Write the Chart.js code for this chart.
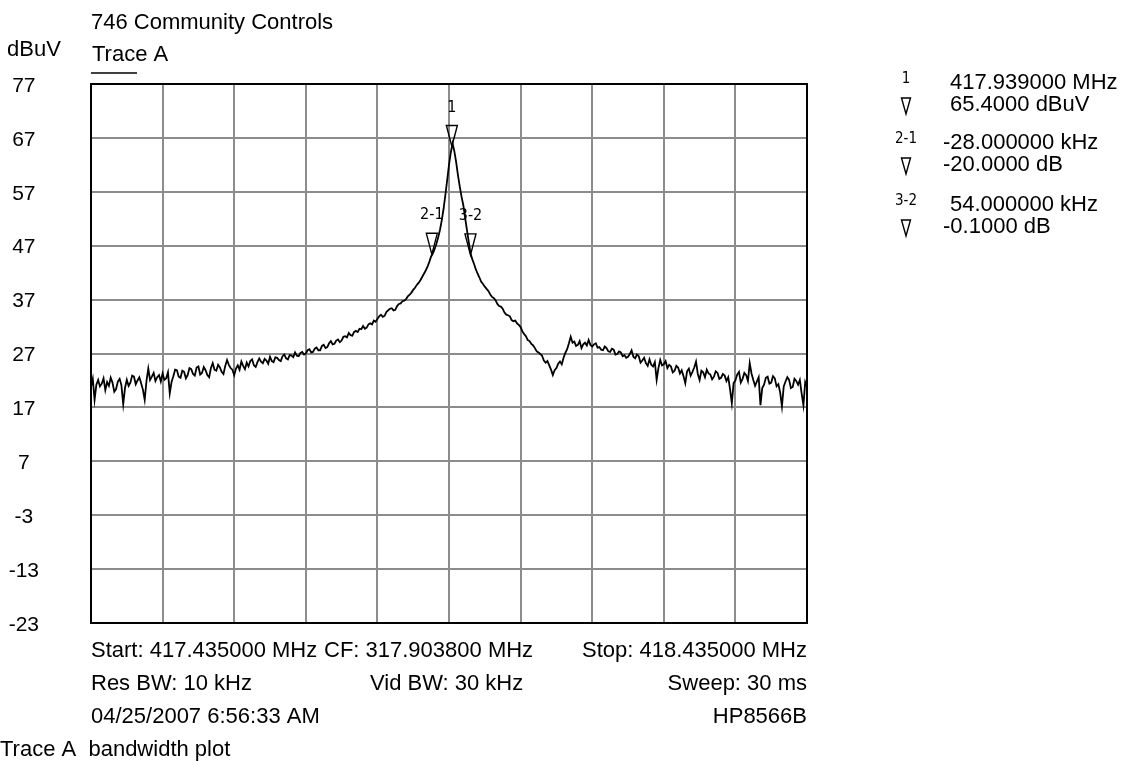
<!DOCTYPE html>
<html>
<head>
<meta charset="utf-8">
<script src="https://cdn.jsdelivr.net/npm/chart.js@4.4.1/dist/chart.umd.min.js"></script>
<style>
  body { margin: 0; background: #fff; }
  canvas { display: block; }
</style>
</head>
<body>
<canvas id="spectrum" width="1125" height="762"></canvas>
<script>
// sweep: 417.435 - 418.435 MHz, one reading every 2.5 kHz (offset from start, kHz)
const binKHz = 2.5;
const level = [
  20.8, 22.3, 18.4, 21.2, 22.1, 20.9, 21.4, 22.4, 20.2, 21.7, 21.0, 22.5, 21.6, 19.9, 20.4, 21.8, 22.3, 21.1, 17.6, 20.6,
  22.1, 21.0, 21.6, 22.9, 22.7, 21.3, 22.0, 22.6, 21.5, 20.3, 18.4, 21.9, 24.2, 22.1, 22.7, 23.4, 21.9, 22.6, 23.0, 21.8,
  23.3, 22.1, 22.4, 23.5, 19.6, 21.7, 22.8, 24.0, 23.9, 22.7, 22.5, 23.8, 23.6, 22.4, 23.0, 24.3, 24.1, 23.2, 22.9, 24.4,
  24.6, 23.1, 23.4, 24.5, 23.9, 23.0, 22.6, 24.3, 25.2, 24.0, 23.8, 24.9, 24.4, 23.6, 23.2, 24.7, 25.8, 24.9, 24.3, 24.0,
  23.0, 24.2, 24.8, 24.0, 25.5, 24.7, 24.1, 25.3, 24.6, 25.6, 25.9, 24.8, 24.5, 25.4, 26.1, 25.5, 25.2, 26.0, 25.7, 25.1,
  26.4, 25.6, 25.4, 26.3, 26.2, 25.8, 25.6, 26.5, 26.8, 26.1, 25.9, 26.7, 26.6, 26.3, 27.2, 26.6, 26.5, 27.1, 27.3, 26.8,
  27.0, 27.6, 27.8, 27.2, 27.3, 27.9, 28.1, 27.6, 27.6, 28.4, 28.6, 28.0, 28.2, 28.9, 29.3, 28.7, 28.8, 29.4, 29.6, 29.1,
  29.4, 30.1, 30.2, 30.0, 30.8, 30.4, 30.3, 31.0, 31.2, 31.0, 31.6, 31.5, 32.1, 31.6, 31.8, 32.4, 32.6, 32.4, 33.1, 32.9,
  33.4, 33.9, 34.2, 33.8, 34.0, 34.7, 35.0, 35.3, 35.4, 35.0, 35.1, 35.8, 36.2, 36.3, 36.7, 36.8, 37.1, 37.6, 37.9, 38.3,
  38.8, 39.2, 39.7, 40.1, 40.6, 41.2, 41.8, 42.4, 43.1, 44.0, 45.0, 45.6, 46.4, 47.4, 48.6, 50.0, 51.8, 53.9, 56.5, 59.2,
  62.0, 64.3, 66.0, 64.5, 62.5, 60.1, 58.0, 56.1, 54.5, 52.2, 50.0, 47.8, 45.6, 44.5, 43.6, 42.6, 41.8, 41.1, 40.3, 39.9,
  39.4, 39.0, 38.6, 38.0, 37.5, 37.3, 36.9, 36.2, 35.8, 35.7, 35.3, 34.6, 34.2, 34.1, 33.9, 33.2, 33.0, 33.1, 32.6, 32.3,
  31.9, 31.1, 30.6, 30.2, 29.5, 29.3, 28.8, 28.5, 28.0, 27.4, 27.2, 26.9, 26.6, 25.7, 25.3, 25.6, 24.8, 24.0, 23.0, 23.9,
  24.3, 25.1, 25.5, 25.0, 26.2, 27.1, 27.8, 28.9, 30.1, 29.0, 29.2, 28.4, 28.6, 29.3, 28.0, 28.7, 29.0, 28.5, 29.5, 28.6,
  28.3, 28.7, 28.9, 28.1, 28.2, 27.7, 27.6, 28.3, 28.0, 27.4, 27.3, 27.9, 27.7, 26.8, 26.9, 27.4, 27.2, 26.5, 26.7, 26.2,
  26.4, 26.9, 27.6, 26.4, 26.1, 26.8, 26.5, 25.3, 25.7, 26.2, 25.2, 24.7, 25.9, 24.9, 24.6, 25.4, 22.1, 24.3, 25.8, 24.8,
  25.0, 25.6, 24.3, 24.9, 24.6, 23.5, 23.8, 24.7, 24.4, 23.3, 23.9, 22.8, 21.5, 23.7, 24.2, 22.9, 23.6, 24.4, 25.5, 23.2,
  22.1, 23.8, 23.5, 22.6, 24.0, 23.3, 23.1, 22.2, 22.7, 23.7, 23.4, 22.3, 22.5, 23.2, 22.9, 21.9, 22.6, 20.4, 17.8, 21.5,
  22.0, 23.1, 23.6, 21.6, 22.3, 23.4, 23.0, 21.9, 25.2, 23.3, 22.1, 21.0, 21.8, 22.6, 17.4, 20.6, 21.2, 22.5, 22.7, 21.4,
  21.6, 22.8, 22.4, 20.9, 21.3, 19.8, 17.2, 20.9, 21.8, 22.6, 22.1, 20.6, 20.8, 22.3, 21.9, 21.2, 22.1, 19.6, 17.4, 21.7, 20.8
];

// markers (offset kHz from start, level dBuV)
const markerNames = ['1', '2-1', '3-2'];
const markerOffset = [504, 476, 530];
const markerLevel = [65.4, 45.4, 45.3];

// marker readout on the right
const readoutTop = ['417.939000 MHz', '-28.000000 kHz', '54.000000 kHz'];
const readoutBottom = ['65.4000 dBuV', '-20.0000 dB', '-0.1000 dB'];

const yMin = -23, yMax = 77, yStep = 10;

const footerRows = [
  ['Start: 417.435000 MHz', 'CF: 317.903800 MHz', 'Stop: 418.435000 MHz'],
  ['Res BW: 10 kHz', 'Vid BW: 30 kHz', 'Sweep: 30 ms'],
  ['04/25/2007 6:56:33 AM', '', 'HP8566B']
];

const points = level.map(function(v, i) {
  return { x: i * binKHz, y: v };
});

const FONT = '"Liberation Sans", Arial, sans-serif';
const NARROW = '"Liberation Sans Narrow", "DejaVu Sans Condensed", sans-serif';

function triangle(ctx, cx, tipY, w, h) {
  ctx.beginPath();
  ctx.moveTo(cx - w / 2, tipY - h);
  ctx.lineTo(cx + w / 2, tipY - h);
  ctx.lineTo(cx, tipY);
  ctx.closePath();
  ctx.stroke();
}

const decorations = {
  id: 'decorations',
  beforeDatasetsDraw(chart) {
    const ctx = chart.ctx, a = chart.chartArea;
    ctx.save();
    ctx.strokeStyle = '#000';
    ctx.lineWidth = 2;
    ctx.strokeRect(a.left, a.top, a.right - a.left, a.bottom - a.top);
    ctx.restore();
  },
  afterDraw(chart) {
    const ctx = chart.ctx, a = chart.chartArea;
    const x = chart.scales.x, y = chart.scales.y;
    ctx.save();
    ctx.fillStyle = '#000';
    ctx.strokeStyle = '#000';
    ctx.textBaseline = 'middle';

    // header
    ctx.font = '22px ' + FONT;
    ctx.textAlign = 'left';
    ctx.fillText('746 Community Controls', a.left, 23);
    ctx.fillText('dBuV', 7, 50);
    ctx.fillText('Trace A', a.left + 1, 55);
    ctx.lineWidth = 1.5;
    ctx.beginPath();
    ctx.moveTo(a.left, 73);
    ctx.lineTo(a.left + 46, 73);
    ctx.stroke();

    // markers on the trace
    ctx.lineWidth = 1.4;
    for (let i = 0; i < markerNames.length; i++) {
      const px = x.getPixelForValue(markerOffset[i]);
      const py = y.getPixelForValue(markerLevel[i]);
      triangle(ctx, px, py, 11, 21);
      ctx.font = '16px ' + NARROW;
      ctx.textAlign = 'center';
      ctx.fillText(markerNames[i], px, py - 39);
    }

    // marker readout
    const rowY = [83, 143, 205];
    for (let i = 0; i < markerNames.length; i++) {
      ctx.font = '15px ' + NARROW;
      ctx.textAlign = 'center';
      ctx.fillText(markerNames[i], 906, rowY[i] - 4);
      ctx.lineWidth = 1.4;
      triangle(ctx, 906, rowY[i] + 31, 9, 16);
      ctx.font = '22px ' + FONT;
      ctx.textAlign = 'left';
      const t = readoutTop[i], b = readoutBottom[i];
      ctx.fillText(t, t[0] === '-' ? 943 : 950, rowY[i]);
      ctx.fillText(b, b[0] === '-' ? 943 : 950, rowY[i] + 22);
    }

    // footer
    ctx.font = '22px ' + FONT;
    const fy = [651, 684, 717];
    const midX = [324, 370, 0];
    footerRows.forEach(function(row, r) {
      ctx.textAlign = 'left';
      ctx.fillText(row[0], a.left, fy[r]);
      if (row[1]) ctx.fillText(row[1], midX[r], fy[r]);
      ctx.textAlign = 'right';
      ctx.fillText(row[2], a.right, fy[r]);
    });
    ctx.textAlign = 'left';
    ctx.fillText('Trace A  bandwidth plot', 0, 750);
    ctx.restore();
  }
};

new Chart(document.getElementById('spectrum'), {
  type: 'line',
  data: {
    datasets: [{
      label: 'Trace A',
      data: points,
      borderColor: '#000',
      borderWidth: 1.8,
      pointRadius: 0,
      tension: 0,
      fill: false
    }]
  },
  options: {
    responsive: false,
    animation: false,
    layout: { padding: { left: 0, top: 84, right: 318, bottom: 139 } },
    plugins: { legend: { display: false }, tooltip: { enabled: false } },
    scales: {
      x: {
        type: 'linear',
        min: 0,
        max: 1000,
        ticks: { display: false, stepSize: 100 },
        grid: { color: '#8c8c8c', lineWidth: 2, drawTicks: false },
        border: { display: false },
        afterFit: function(s) { s.height = 0; }
      },
      y: {
        type: 'linear',
        min: yMin,
        max: yMax,
        ticks: {
          stepSize: yStep,
          color: '#000',
          font: { family: FONT, size: 21 },
          crossAlign: 'center',
          padding: 52,
          labelOffset: 2
        },
        grid: { color: '#8c8c8c', lineWidth: 2, drawTicks: false },
        border: { display: false },
        afterFit: function(s) { s.width = 91; }
      }
    }
  },
  plugins: [decorations]
});
</script>
</body>
</html>
